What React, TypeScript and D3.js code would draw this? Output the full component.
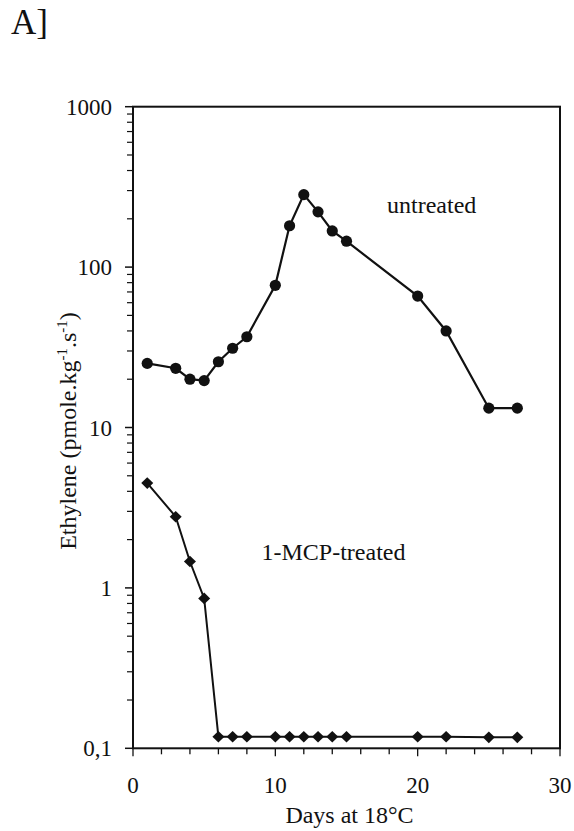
import React from "react";
import * as d3 from "d3";

const days = [1, 3, 4, 5, 6, 7, 8, 10, 11, 12, 13, 14, 15, 20, 22, 25, 27];
const untreated = [25.1, 23.4, 20.0, 19.6, 25.7, 31.2, 36.8, 77, 181, 283, 221, 168, 145, 66, 40, 13.2, 13.2];
const treated = [4.5, 2.78, 1.46, 0.86, 0.118, 0.118, 0.118, 0.118, 0.118, 0.118, 0.118, 0.118, 0.118, 0.118, 0.118, 0.117, 0.117];
const yMajor = [0.1, 1, 10, 100, 1000];
const yMajorLabels = ["0,1", "1", "10", "100", "1000"];
const xTicks = [0, 2, 4, 6, 8, 10, 12, 14, 16, 18, 20, 22, 24, 26, 28, 30];
const xLabels = [0, 10, 20, 30];

const FONT = '"Liberation Serif", "Times New Roman", "DejaVu Serif", serif';

export default function App() {
  const W = 574, H = 831;
  const L = 133, R = 560, T = 106.7, B = 748.3;
  const x = d3.scaleLinear().domain([0, 30]).range([L, R]);
  const y = d3.scaleLog().domain([0.1, 1000]).range([B, T]);

  const yMinor: number[] = [];
  for (let i = 0; i < 4; i++) {
    const base = yMajor[i];
    for (let k = 2; k <= 9; k++) yMinor.push(base * k);
  }

  const line = d3.line<number>().x((_, i) => x(days[i])).y((v) => y(v));
  const uPath = line(untreated) || "";
  const tPath = line(treated) || "";
  const dp = d3.path();
  dp.moveTo(0, -5.8);
  dp.lineTo(6, 0);
  dp.lineTo(0, 5.8);
  dp.lineTo(-6, 0);
  dp.closePath();
  const diamond = dp.toString();
  const ts = { fontFamily: FONT } as React.CSSProperties;

  return (
    <svg width={W} height={H} style={{ position: "absolute", left: 0, top: 0, background: "#fff", fontFamily: FONT }}>
      <rect x={0} y={0} width={W} height={H} fill="#fff" />
      <text x={11} y={34} fontSize={35} fill="#111" style={ts}>A]</text>

      <rect x={L} y={T} width={R - L} height={B - T} fill="none" stroke="#111" strokeWidth={2} />

      {yMinor.map((v, i) => (
        <line key={"ym" + i} x1={L - 6} x2={L} y1={y(v)} y2={y(v)} stroke="#111" strokeWidth={1.2} />
      ))}
      {yMajor.map((v, i) => (
        <g key={"yM" + i}>
          <line x1={L - 8} x2={L} y1={y(v)} y2={y(v)} stroke="#111" strokeWidth={1.5} />
          <text x={112} y={y(v)} dy="0.35em" textAnchor="end" fontSize={23} fill="#111" style={ts}>
            {yMajorLabels[i]}
          </text>
        </g>
      ))}

      {xTicks.map((v, i) => (
        <line key={"xt" + i} x1={x(v)} x2={x(v)} y1={B} y2={B + (v % 10 === 0 ? 8 : 6)} stroke="#111" strokeWidth={1.3} />
      ))}
      {xLabels.map((v, i) => (
        <text key={"xl" + i} x={x(v)} y={793} textAnchor="middle" fontSize={23} fill="#111" style={ts}>
          {v}
        </text>
      ))}

      <text x={349.5} y={823} textAnchor="middle" fontSize={24} fill="#111" style={ts}>Days at 18°C</text>
      <text transform={`translate(76,431) rotate(-90)`} textAnchor="middle" fontSize={24} fill="#111" style={ts}>
        Ethylene (pmole.kg<tspan fontSize={15} dy={-9}>-1</tspan>
        <tspan dy={9}>.s</tspan>
        <tspan fontSize={15} dy={-9}>-1</tspan>
        <tspan dy={9}>)</tspan>
      </text>

      <path d={uPath} fill="none" stroke="#111" strokeWidth={2.2} />
      {untreated.map((v, i) => (
        <circle key={"u" + i} cx={x(days[i])} cy={y(v)} r={5.6} fill="#111" />
      ))}
      <path d={tPath} fill="none" stroke="#111" strokeWidth={2} />
      {treated.map((v, i) => (
        <path key={"t" + i} d={diamond} transform={`translate(${x(days[i])},${y(v)})`} fill="#111" />
      ))}

      <text x={387} y={213} fontSize={24} fill="#111" style={ts}>untreated</text>
      <text x={261.5} y={560} fontSize={24} fill="#111" style={ts}>1-MCP-treated</text>
    </svg>
  );
}
